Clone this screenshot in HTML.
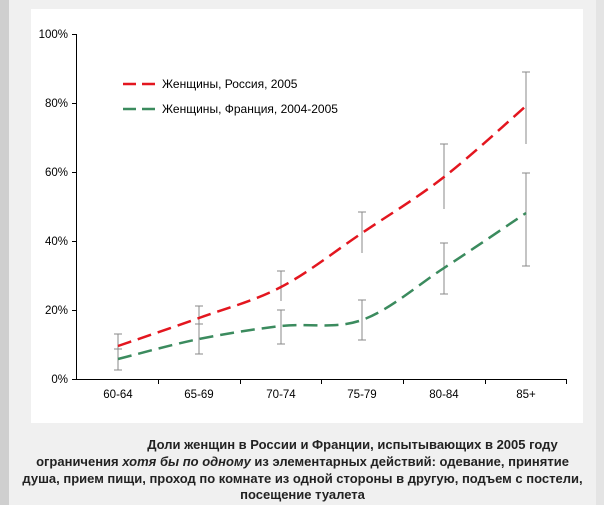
<!DOCTYPE html>
<html><head><meta charset="utf-8"><style>
body{margin:0;width:604px;height:505px;background:#f0f0f0;position:relative;overflow:hidden;font-family:"Liberation Sans",Arial,sans-serif}
.l{position:absolute;left:0;top:0;width:9px;height:505px;background:#cfcfcf}
.r{position:absolute;left:596px;top:0;width:8px;height:505px;background:#e4e4e4}
.cap{position:absolute;left:9px;width:587px;text-align:center;font-weight:bold;font-size:13px;color:#222;white-space:nowrap}
</style></head><body>
<div class="l"></div><div class="r"></div>
<svg width="604" height="505" style="position:absolute;left:0;top:0">
<rect x="31" y="9" width="552" height="414" fill="#fff"/>
<g stroke="#000" stroke-width="1">
<line x1="76.5" y1="34" x2="76.5" y2="379"/>
<line x1="76" y1="379.5" x2="567" y2="379.5"/>
<line x1="72" y1="34.5" x2="77" y2="34.5"/><line x1="72" y1="103.5" x2="77" y2="103.5"/><line x1="72" y1="172.5" x2="77" y2="172.5"/><line x1="72" y1="241.5" x2="77" y2="241.5"/><line x1="72" y1="310.5" x2="77" y2="310.5"/><line x1="72" y1="379.5" x2="77" y2="379.5"/>
<line x1="158.5" y1="379" x2="158.5" y2="384"/><line x1="240.5" y1="379" x2="240.5" y2="384"/><line x1="321.5" y1="379" x2="321.5" y2="384"/><line x1="403.5" y1="379" x2="403.5" y2="384"/><line x1="485.5" y1="379" x2="485.5" y2="384"/><line x1="566.5" y1="379" x2="566.5" y2="384"/>
</g>
<g font-size="11.5" fill="#000" text-anchor="end">
<text x="68" y="38">100%</text><text x="68" y="107">80%</text><text x="68" y="176">60%</text><text x="68" y="245">40%</text><text x="68" y="314">20%</text><text x="68" y="383">0%</text>
</g>
<g font-size="11.5" fill="#000" text-anchor="middle">
<text x="118" y="398">60-64</text><text x="199" y="398">65-69</text><text x="281" y="398">70-74</text><text x="362" y="398">75-79</text><text x="444" y="398">80-84</text><text x="526" y="398">85+</text>
</g>
<g stroke="#888" stroke-width="1">
<path d="M118 334V355M114 334H122"/><path d="M199 306V330M195 306H203"/><path d="M281 271V301M277 271H285"/><path d="M362 212V253M358 212H366"/><path d="M444 144V209M440 144H448"/><path d="M526 72V144M522 72H530"/>
<path d="M118 349V370M114 349H122M114 370H122"/><path d="M199 324V354M195 324H203M195 354H203"/><path d="M281 310V344M277 310H285M277 344H285"/><path d="M362 300V340M358 300H366M358 340H366"/><path d="M444 243V294M440 243H448M440 294H448"/><path d="M526 173V266M522 173H530M522 266H530"/>
</g>
<path d="M118 346C131.5 341.3 171.8 327.8 199 318C226.2 308.2 253.8 301.2 281 287C308.2 272.8 334.8 251.3 362 233C389.2 214.7 416.7 198.2 444 177C471.3 155.8 512.3 117.8 526 106" fill="none" stroke="#e3161f" stroke-width="2.5" stroke-dasharray="14 7"/>
<path d="M118 359C131.5 355.7 171.8 344.5 199 339C226.2 333.5 253.8 329.2 281 326C308.2 322.8 334.8 329.7 362 320C389.2 310.3 416.7 285.8 444 268C471.3 250.2 512.3 222.2 526 213" fill="none" stroke="#3b8b5e" stroke-width="2.5" stroke-dasharray="14 7"/>
<line x1="123" y1="84" x2="159" y2="84" stroke="#e3161f" stroke-width="2.5" stroke-dasharray="13 6"/>
<line x1="123" y1="109" x2="159" y2="109" stroke="#3b8b5e" stroke-width="2.5" stroke-dasharray="13 6"/>
<text x="162" y="88" font-size="12">Женщины, Россия, 2005</text>
<text x="162" y="113" font-size="12">Женщины, Франция, 2004-2005</text>
</svg>
<div class="cap" style="top:437px;padding-left:100px;box-sizing:border-box">Доли женщин в России и Франции, испытывающих в 2005 году</div>
<div class="cap" style="top:454px">ограничения <i>хотя бы по одному</i> из элементарных действий: одевание, принятие</div>
<div class="cap" style="top:471px">душа, прием пищи, проход по комнате из одной стороны в другую, подъем с постели,</div>
<div class="cap" style="top:487px">посещение туалета</div>
</body></html>
